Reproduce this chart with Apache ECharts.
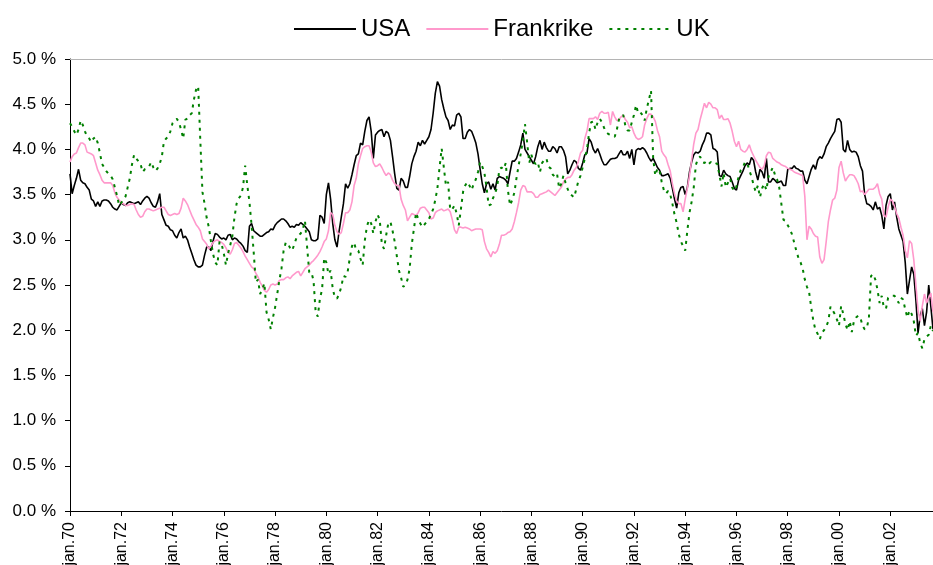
<!DOCTYPE html>
<html>
<head>
<meta charset="utf-8">
<script src="https://cdn.jsdelivr.net/npm/echarts@6/dist/echarts.min.js"></script>
<style>
    html, body { margin: 0; padding: 0; background: #fff; }
    #main { width: 933px; height: 565px; }
</style>
</head>
<body>
<div id="main"></div>
<script>
// tick labels, one every 24 months
var tickLabels = ['jan.70', 'jan.72', 'jan.74', 'jan.76', 'jan.78', 'jan.80', 'jan.82', 'jan.84', 'jan.86',
    'jan.88', 'jan.90', 'jan.92', 'jan.94', 'jan.96', 'jan.98', 'jan.00', 'jan.02'];

// monthly values, jan 1970 .. sep 2003 (percent)
var usa = [
    3.73, 3.51, 3.60, 3.68, 3.78, 3.66, 3.63, 3.62, 3.58, 3.55, 3.45, 3.43,
    3.37, 3.42, 3.37, 3.43, 3.44, 3.44, 3.43, 3.40, 3.36, 3.34, 3.33, 3.37,
    3.41, 3.39, 3.38, 3.41, 3.42, 3.41, 3.40, 3.41, 3.42, 3.39, 3.43, 3.46,
    3.48, 3.46, 3.41, 3.37, 3.36, 3.42, 3.51, 3.28, 3.22, 3.16, 3.15, 3.11,
    3.10, 3.05, 3.02, 3.08, 3.12, 3.02, 3.04, 3.00, 2.92, 2.85, 2.78, 2.72,
    2.70, 2.70, 2.72, 2.83, 2.92, 2.92, 2.88, 2.99, 3.07, 3.06, 3.03, 3.01,
    3.02, 3.00, 3.05, 3.06, 3.00, 3.02, 3.01, 2.98, 2.96, 2.93, 2.88, 2.86,
    3.15, 3.18, 3.10, 3.08, 3.06, 3.04, 3.04, 3.06, 3.08, 3.09, 3.12, 3.11,
    3.16, 3.19, 3.21, 3.23, 3.23, 3.21, 3.18, 3.14, 3.15, 3.14, 3.17, 3.16,
    3.19, 3.17, 3.15, 3.12, 3.09, 3.00, 2.99, 2.99, 3.01, 3.27, 3.25, 3.18,
    3.50, 3.63, 3.45, 3.18, 3.00, 2.92, 3.10, 3.25, 3.40, 3.62, 3.57, 3.62,
    3.72, 3.83, 3.93, 3.95, 4.07, 4.05, 4.20, 4.32, 4.36, 4.20, 3.90, 4.16,
    4.19, 4.21, 4.22, 4.14, 4.20, 4.18, 4.10, 3.92, 3.73, 3.57, 3.55, 3.68,
    3.65, 3.58, 3.58, 3.70, 3.84, 3.92, 3.98, 4.08, 4.04, 4.10, 4.06, 4.10,
    4.14, 4.22, 4.40, 4.62, 4.75, 4.70, 4.55, 4.45, 4.36, 4.32, 4.22, 4.27,
    4.26, 4.38, 4.40, 4.36, 4.12, 4.12, 4.19, 4.22, 4.20, 4.14, 4.07, 3.95,
    3.78, 3.62, 3.52, 3.62, 3.64, 3.56, 3.62, 3.55, 3.68, 3.70, 3.69, 3.68,
    3.66, 3.62, 3.75, 3.87, 3.87, 3.90, 3.97, 4.05, 4.18, 4.00, 3.96, 3.92,
    3.88, 3.84, 3.92, 4.03, 4.10, 4.00, 4.08, 4.02, 3.98, 3.98, 4.03, 4.01,
    3.96, 4.03, 4.03, 3.99, 3.92, 3.73, 3.77, 3.83, 3.88, 3.86, 3.79, 3.77,
    3.85, 3.94, 3.96, 4.12, 4.08, 4.00, 3.96, 4.01, 3.95, 3.88, 3.83, 3.83,
    3.86, 3.89, 3.90, 3.90, 3.91, 3.95, 3.99, 3.94, 3.94, 3.98, 3.90, 4.00,
    3.83, 3.99, 4.01, 4.00, 4.02, 4.00, 3.96, 3.91, 3.87, 3.90, 3.85, 3.80,
    3.77, 3.71, 3.71, 3.72, 3.73, 3.68, 3.57, 3.45, 3.35, 3.52, 3.58, 3.59,
    3.50, 3.58, 3.75, 3.86, 3.94, 3.97, 3.96, 3.98, 4.05, 4.10, 4.18, 4.18,
    4.16, 4.01, 4.00, 3.97, 3.71, 3.70, 3.77, 3.73, 3.71, 3.70, 3.64, 3.57,
    3.55, 3.66, 3.71, 3.76, 3.82, 3.85, 3.83, 3.91, 3.88, 3.75, 3.66, 3.78,
    3.75, 3.68, 3.90, 3.64, 3.64, 3.68, 3.66, 3.63, 3.64, 3.65, 3.60, 3.60,
    3.78, 3.79, 3.79, 3.82, 3.79, 3.78, 3.76, 3.76, 3.66, 3.62, 3.70, 3.78,
    3.83, 3.78, 3.88, 3.92, 3.90, 3.95, 4.03, 4.07, 4.12, 4.16, 4.20, 4.33,
    4.34, 4.30, 4.00, 3.97, 4.10, 4.00, 3.97, 3.98, 3.97, 3.92, 3.82, 3.76,
    3.50, 3.40, 3.39, 3.37, 3.33, 3.42, 3.34, 3.36, 3.27, 3.12, 3.38, 3.48,
    3.51, 3.33, 3.42, 3.25, 3.12, 3.05, 2.98, 2.75, 2.40, 2.55, 2.70, 2.62,
    2.33, 1.97, 2.16, 2.24, 2.05, 2.20, 2.50, 2.26, 2.01
];

var frankrike = [
    3.86, 3.92, 3.95, 3.96, 4.02, 4.07, 4.07, 4.05, 3.97, 3.96, 3.95, 3.93,
    3.85, 3.77, 3.72, 3.66, 3.63, 3.63, 3.63, 3.63, 3.60, 3.52, 3.47, 3.44,
    3.41, 3.40, 3.38, 3.38, 3.39, 3.40, 3.39, 3.33, 3.28, 3.25, 3.26, 3.31,
    3.34, 3.34, 3.33, 3.32, 3.33, 3.34, 3.35, 3.36, 3.36, 3.32, 3.28, 3.27,
    3.28, 3.29, 3.28, 3.29, 3.35, 3.46, 3.43, 3.39, 3.33, 3.27, 3.22, 3.17,
    3.14, 3.10, 3.01, 2.98, 2.95, 2.90, 2.93, 2.97, 2.99, 3.00, 2.98, 2.97,
    2.95, 2.91, 2.86, 2.84, 2.89, 2.96, 2.97, 2.94, 2.91, 2.87, 2.82, 2.78,
    2.74, 2.70, 2.68, 2.63, 2.59, 2.53, 2.49, 2.44, 2.42, 2.45, 2.50, 2.51,
    2.50, 2.51, 2.55, 2.56, 2.56, 2.58, 2.59, 2.57, 2.60, 2.62, 2.64, 2.65,
    2.60, 2.64, 2.68, 2.70, 2.72, 2.75, 2.77, 2.80, 2.83, 2.87, 2.92, 2.98,
    3.01, 3.10, 3.30, 3.28, 3.16, 3.09, 3.06, 3.08, 3.18, 3.30, 3.30, 3.33,
    3.42, 3.60, 3.68, 3.84, 3.93, 4.01, 4.03, 4.04, 4.04, 3.97, 3.85, 3.81,
    3.82, 3.84, 3.80, 3.75, 3.71, 3.74, 3.72, 3.66, 3.62, 3.60, 3.60, 3.45,
    3.38, 3.33, 3.21, 3.25, 3.29, 3.28, 3.27, 3.30, 3.35, 3.36, 3.36, 3.33,
    3.30, 3.23, 3.24, 3.30, 3.32, 3.33, 3.34, 3.32, 3.33, 3.34, 3.31, 3.22,
    3.11, 3.07, 3.14, 3.14, 3.13, 3.14, 3.13, 3.12, 3.10, 3.11, 3.12, 3.12,
    3.12, 3.11, 2.98, 2.90, 2.86, 2.81, 2.87, 2.85, 2.88, 2.95, 3.05, 3.05,
    3.06, 3.08, 3.09, 3.12, 3.20, 3.30, 3.41, 3.55, 3.60, 3.59, 3.53, 3.53,
    3.53, 3.51, 3.47, 3.47, 3.50, 3.51, 3.52, 3.53, 3.55, 3.53, 3.51, 3.49,
    3.52, 3.55, 3.58, 3.64, 3.67, 3.69, 3.69, 3.72, 3.77, 3.80, 3.87, 3.96,
    3.99, 4.12, 4.20, 4.34, 4.34, 4.34, 4.36, 4.33, 4.40, 4.42, 4.40, 4.40,
    4.41, 4.27, 4.42, 4.36, 4.32, 4.33, 4.36, 4.38, 4.33, 4.30, 4.24, 4.25,
    4.18, 4.13, 4.11, 4.12, 4.14, 4.27, 4.34, 4.39, 4.39, 4.36, 4.31, 4.21,
    4.14, 3.98, 3.94, 3.91, 3.83, 3.76, 3.62, 3.51, 3.43, 3.40, 3.40, 3.31,
    3.45, 3.57, 3.71, 3.88, 4.06, 4.18, 4.22, 4.33, 4.42, 4.51, 4.46, 4.52,
    4.50, 4.46, 4.46, 4.44, 4.34, 4.38, 4.33, 4.33, 4.34, 4.29, 4.20, 4.09,
    4.03, 4.09, 4.00, 3.98, 3.97, 4.00, 4.05, 3.98, 3.93, 3.88, 3.84, 3.80,
    3.78, 3.82, 3.93, 3.97, 3.96, 3.90, 3.88, 3.86, 3.85, 3.83, 3.82, 3.81,
    3.79, 3.78, 3.77, 3.75, 3.74, 3.73, 3.72, 3.71, 3.48, 3.00, 3.15, 3.12,
    3.07, 3.04, 3.03, 2.81, 2.74, 2.78, 2.98, 3.20, 3.33, 3.44, 3.46, 3.55,
    3.80, 3.87, 3.74, 3.65, 3.69, 3.72, 3.72, 3.71, 3.67, 3.62, 3.53, 3.54,
    3.50, 3.53, 3.56, 3.56, 3.56, 3.58, 3.62, 3.51, 3.45, 3.27, 3.25, 3.36,
    3.45, 3.43, 3.37, 3.29, 3.24, 3.14, 3.05, 2.88, 2.80, 2.99, 2.96, 2.78,
    2.50, 2.22, 2.10, 2.27, 2.40, 2.30, 2.36, 2.41, 2.20
];

var uk = [
    4.29, 4.25, 4.20, 4.16, 4.22, 4.32, 4.27, 4.20, 4.14, 4.12, 4.08, 4.12,
    4.14, 4.07, 3.96, 3.84, 3.80, 3.76, 3.73, 3.71, 3.67, 3.58, 3.49, 3.38,
    3.41, 3.44, 3.48, 3.58, 3.68, 3.83, 3.94, 3.90, 3.87, 3.84, 3.75, 3.78,
    3.79, 3.81, 3.86, 3.80, 3.76, 3.79, 3.84, 3.92, 4.09, 4.12, 4.14, 4.20,
    4.29, 4.32, 4.34, 4.30, 4.22, 4.12, 4.33, 4.34, 4.38, 4.40, 4.55, 4.66,
    4.70, 4.10, 3.53, 3.40, 3.24, 3.14, 2.98, 2.84, 2.75, 2.72, 2.98, 2.95,
    2.85, 2.72, 2.85, 2.94, 3.04, 3.25, 3.40, 3.46, 3.49, 3.58, 3.82, 3.60,
    3.42, 3.16, 2.86, 2.53, 2.56, 2.40, 2.45, 2.52, 2.20, 2.12, 2.01, 2.14,
    2.25, 2.40, 2.55, 2.68, 2.88, 2.97, 2.96, 2.91, 2.88, 2.95, 3.02, 3.05,
    3.07, 3.12, 3.21, 2.92, 2.64, 2.64, 2.55, 2.20, 2.15, 2.35, 2.45, 2.80,
    2.75, 2.62, 2.66, 2.46, 2.36, 2.35, 2.40, 2.48, 2.60, 2.59, 2.65, 2.80,
    2.93, 2.97, 2.88, 2.88, 2.79, 2.72, 2.99, 3.15, 3.22, 3.18, 3.07, 3.20,
    3.28, 3.22, 2.95, 2.90, 3.05, 3.18, 3.20, 3.10, 2.98, 2.82, 2.66, 2.58,
    2.48, 2.50, 2.56, 2.68, 2.95, 3.12, 3.30, 3.23, 3.18, 3.14, 3.17, 3.20,
    3.23, 3.28, 3.34, 3.44, 3.57, 3.80, 4.01, 3.80, 3.60, 3.64, 3.33, 3.34,
    3.38, 3.29, 3.16, 3.34, 3.53, 3.60, 3.64, 3.60, 3.55, 3.62, 3.67, 3.75,
    3.86, 3.81, 3.74, 3.58, 3.38, 3.39, 3.46, 3.51, 3.59, 3.78, 3.80, 3.78,
    3.85, 3.55, 3.38, 3.44, 3.52, 3.68, 3.82, 3.95, 4.10, 4.28, 4.08, 3.85,
    3.94, 3.86, 3.84, 3.86, 3.75, 3.85, 3.88, 3.90, 3.81, 3.79, 3.72, 3.70,
    3.73, 3.57, 3.62, 3.71, 3.63, 3.56, 3.51, 3.49, 3.47, 3.56, 3.65, 3.71,
    3.80, 3.90, 4.00, 4.18, 4.30, 4.31, 4.22, 4.30, 4.34, 4.30, 4.24, 4.19,
    4.17, 4.16, 4.15, 4.14, 4.22, 4.33, 4.37, 4.38, 4.26, 4.21, 4.21, 4.30,
    4.38, 4.49, 4.40, 4.41, 4.38, 4.32, 4.45, 4.55, 4.65, 3.90, 3.71, 3.79,
    3.76, 3.64, 3.55, 3.51, 3.54, 3.50, 3.40, 3.28, 3.19, 3.06, 2.98, 2.93,
    2.88, 3.10, 3.30, 3.42, 3.58, 3.83, 3.90, 3.92, 3.86, 3.85, 3.87, 3.84,
    3.86, 3.84, 3.85, 3.84, 3.72, 3.59, 3.74, 3.58, 3.63, 3.68, 3.58, 3.54,
    3.59, 3.70, 3.77, 3.80, 3.86, 3.85, 3.77, 3.70, 3.61, 3.53, 3.60, 3.47,
    3.57, 3.62, 3.55, 3.70, 3.75, 3.80, 3.72, 3.67, 3.58, 3.40, 3.22, 3.21,
    3.16, 3.12, 3.06, 2.97, 2.88, 2.80, 2.75, 2.68, 2.56, 2.48, 2.42, 2.25,
    2.10, 2.00, 1.96, 1.90, 1.97, 2.00, 2.04, 2.10, 2.26, 2.22, 2.18, 2.12,
    2.05, 2.27, 2.18, 2.07, 2.00, 2.10, 1.98, 2.10, 2.14, 2.16, 2.14, 2.05,
    2.01, 2.02, 2.14, 2.60, 2.62, 2.56, 2.45, 2.30, 2.38, 2.25, 2.24, 2.36,
    2.37, 2.38, 2.38, 2.34, 2.30, 2.36, 2.34, 2.23, 2.14, 2.22, 2.18, 2.10,
    1.94, 1.97, 1.86, 1.80, 1.90, 1.93, 1.95, 2.05, 1.99
];

// one category per month
var months = [];
for (var i = 0; i < usa.length; i++) {
    months.push((1970 + Math.floor(i / 12)) + '-' + (i % 12 + 1));
}

function everyTwoYears(idx) {
    return idx % 24 === 0;
}

var font = 'Arial, "Liberation Sans", sans-serif';

var chart = echarts.init(document.getElementById('main'));
var option = {
    animation: false,
    backgroundColor: '#fff',
    legend: {
        left: 288,
        top: 12,
        itemWidth: 62,
        itemHeight: 14,
        itemGap: 15,
        itemStyle: { opacity: 0 },
        textStyle: { fontSize: 24, color: '#000', fontFamily: font },
        data: ['USA', 'Frankrike', 'UK']
    },
    grid: { left: 70, right: 0, top: 59, bottom: 54, outerBoundsMode: 'none' },
    xAxis: [{
        type: 'category',
        data: months,
        boundaryGap: false,
        axisLine: { lineStyle: { color: '#000', width: 1 } },
        axisTick: { interval: everyTwoYears, length: 5, lineStyle: { color: '#000' } },
        axisLabel: {
            interval: everyTwoYears,
            rotate: 90,
            margin: 11,
            fontSize: 16,
            color: '#000',
            fontFamily: font,
            formatter: function (v, idx) {
                return tickLabels[idx / 24];
            }
        },
        splitLine: { show: false }
    }, {
        type: 'category',
        data: months,
        position: 'top',
        boundaryGap: false,
        axisLine: { lineStyle: { color: '#b4b4b4', width: 1 } },
        axisTick: { show: false },
        axisLabel: { show: false },
        splitLine: { show: false }
    }],
    yAxis: {
        type: 'value',
        min: 0,
        max: 5,
        interval: 0.5,
        axisLine: { show: true, lineStyle: { color: '#000', width: 1 } },
        axisTick: { show: true, length: 5, lineStyle: { color: '#000' } },
        axisLabel: {
            margin: 14,
            fontSize: 17,
            color: '#000',
            fontFamily: font,
            formatter: function (v) {
                return v.toFixed(1) + ' %';
            }
        },
        splitLine: { show: false }
    },
    series: [{
        name: 'USA',
        type: 'line',
        data: usa,
        symbol: 'none',
        color: '#000000',
        lineStyle: { width: 1.6, color: '#000000' }
    }, {
        name: 'Frankrike',
        type: 'line',
        data: frankrike,
        symbol: 'none',
        color: '#ff99cc',
        lineStyle: { width: 1.6, color: '#ff99cc' }
    }, {
        name: 'UK',
        type: 'line',
        data: uk,
        symbol: 'none',
        color: '#008000',
        lineStyle: { width: 2, color: '#008000', type: [3, 5] }
    }]
};
chart.setOption(option);
</script>
</body>
</html>
